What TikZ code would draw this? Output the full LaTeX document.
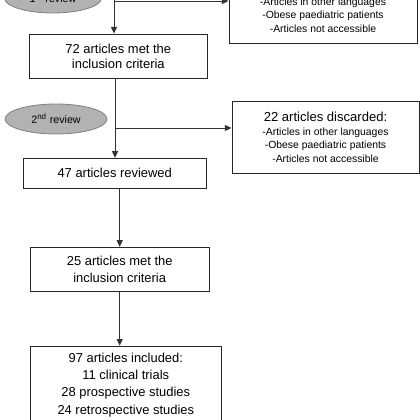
\documentclass[tikz,border=0pt]{standalone}
\usepackage{fontspec}
\setmainfont{Liberation Sans}
\usetikzlibrary{shapes.geometric,arrows.meta}

\begin{document}
\begin{tikzpicture}[x=0.75pt,y=-0.75pt,
			box/.style={draw=black!85,line width=0.7pt,align=center,inner sep=0pt,font=\fontsize{9.7}{13}\selectfont},
			disc/.style={box,font=\fontsize{7.8}{10.1}\selectfont},
			review/.style={ellipse,draw=gray,fill=gray!60,line width=0.6pt,inner sep=0pt,font=\fontsize{8}{9.6}\selectfont},
			arr/.style={-{Stealth[inset=0pt,length=5pt,width=4.5pt]},black!80,line width=0.7pt}]
			\useasboundingbox (0,0) rectangle (420,420);
			\clip (0,0) rectangle (420,420);
			% reviews
			\node[review,minimum width=72.75pt,minimum height=22.5pt] (rev1) at (53,-2) {1\textsuperscript{st} review};
			\node[review,minimum width=76.5pt,minimum height=22.5pt] (rev2) at (56,119) {2\textsuperscript{nd} review};
			% main column
			\node[box,minimum width=133.5pt,minimum height=33.2pt,font=\fontsize{9.7}{11.7}\selectfont] (b72) at (118.3,56.2) {72 articles met the\\inclusion criteria};
			\node[box,minimum width=137pt,minimum height=22.5pt] (b47) at (114.7,173.3) {47 articles reviewed};
			\node[box,minimum width=134pt,minimum height=32.8pt] (b25) at (119.7,269.2) {25 articles met the\\inclusion criteria};
			\node[box,minimum width=143.3pt,anchor=north,inner ysep=5pt,text depth=60pt] (b97) at (125.8,345.7) {97 articles included:\\11 clinical trials\\28 prospective studies\\24 retrospective studies};
			% discarded
			\node[disc,minimum width=141pt,minimum height=53.3pt] (disc1) at (323,7.5) {{\fontsize{9.8}{12}\selectfont\phantom{22 articles discarded:}}\\-Articles in other languages\\-Obese paediatric patients\\-Articles not accessible};
			\node[disc,minimum width=140.3pt,minimum height=53.3pt] (disc2) at (325.5,137.5) {{\fontsize{9.8}{12}\selectfont 22 articles discarded:}\\-Articles in other languages\\-Obese paediatric patients\\-Articles not accessible};
			\coordinate (top) at (114,-20);
			\coordinate (branch1) at (114,1);
			\coordinate (branch2) at (115,128);
			\path[arr]
			(top) edge (b72.north -| top)
			(branch1) edge (branch1 -| disc1.west)
			(b72.south -| branch2) edge (b47.north -| branch2)
			(branch2) edge (branch2 -| disc2.west)
			(b47.south -| b25.north) edge (b25.north)
			(b25.south) edge (b25.south |- b97.north);
		\end{tikzpicture}
\end{document}
